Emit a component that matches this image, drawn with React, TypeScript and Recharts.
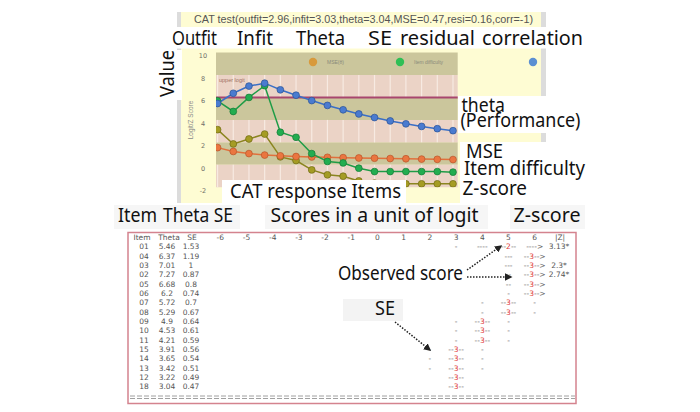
import React from "react";
import { LineChart, Line, XAxis, YAxis, ReferenceArea, ReferenceLine, Legend } from "recharts";

// CAT items in the order they were given
const items = ["01", "04", "03", "02", "05", "06", "07", "08", "09", "10", "11", "15", "14", "13", "12", "18"];
const theta = [5.46, 6.37, 7.01, 7.27, 6.68, 6.2, 5.72, 5.29, 4.9, 4.53, 4.21, 3.91, 3.65, 3.42, 3.22, 3.04];
const se = [1.53, 1.19, 1, 0.87, 0.8, 0.74, 0.7, 0.67, 0.64, 0.61, 0.59, 0.56, 0.54, 0.51, 0.49, 0.47];
const difficulty = [5.7, 4.75, 6.0, 7.05, 2.9, 2.45, 1.0, 0.3, 0.17, -0.3, -0.6, -0.6, -0.6, -0.6, -0.6, -0.65];
const zScore = [3.13, 1.86, 2.3, 2.74, 0.71, 0.38, -0.45, -0.89, -1.01, -1.43, -1.63, -1.69, -1.69, -1.69, -1.69, -1.69];
const zFlags = ["3.13*", "", "2.3*", "2.74*", "", "", "", "", "", "", "", "", "", "", "", ""];

const yTicks = [-2, 0, 2, 4, 6, 8, 10];
const khakiBands: [number, number][] = [[8, 10], [4, 6], [0, 2]];
const pinkBands: [number, number][] = [[6, 8], [2, 4], [-2, 0]];
const scaleCols = [-6, -5, -4, -3, -2, -1, 0, 1, 2, 3, 4, 5, 6];

// observed-score marks per table row: [logit column, text]
const scoreMarks: [number, string][][] = [
  [[3, "-"], [4, "----"], [5, "--2--"], [6, "---->"]],
  [[5, "---"], [6, "--3-->"]],
  [[5, "---"], [6, "--3-->"]],
  [[5, "--"], [6, "--3-->"]],
  [[5, "--"], [6, "--3-->"]],
  [[5, "-"], [6, "--3-->"]],
  [[4, "-"], [5, "--3--"], [6, "-"]],
  [[4, "-"], [5, "--3--"], [6, "-"]],
  [[3, "-"], [4, "--3--"], [5, "-"]],
  [[3, "-"], [4, "--3--"], [5, "-"]],
  [[3, "-"], [4, "--3--"], [5, "-"]],
  [[2, "-"], [3, "--3--"], [4, "-"]],
  [[2, "-"], [3, "--3--"], [4, "-"]],
  [[2, "-"], [3, "--3--"], [4, "-"]],
  [[3, "--3--"]],
  [[3, "--3--"]],
];

const legendNames = ["MSE(θ)", "Item difficulty", ""];
const legendColors = ["#d89a3c", "#2fbf55", "#5b8fd2"];
const legendX = [136, 223, 356];

const data = items.map((it, i) => ({
  n: i + 1,
  item: it,
  theta: theta[i],
  se: se[i],
  difficulty: difficulty[i],
  z: zScore[i],
}));

const YTick = (props: any) => (
  <text x={26} y={props.y + 3.6} dy="0.35em" textAnchor="middle" fontSize={6.5} fill="#70706a" fontFamily="DejaVu Sans">
    {props.payload.value}
  </text>
);

const LegendBox = () => (
  <svg width={366} height={20}>
    {legendNames.map((name, i) => (
      <g key={i}>
        <circle cx={legendX[i]} cy={10} r={4.2} fill={legendColors[i]} />
        {name && (
          <text x={legendX[i] + 14} y={12} fontSize={5} fill="#8a8a7a" fontFamily="Liberation Sans">
            {name}
          </text>
        )}
      </g>
    ))}
  </svg>
);

const colX = (v: number) => 377.5 + v * 26.2;
const rowY = (i: number) => 249.3 + i * 9.33;

const Mark = ({ x, y, s }: { x: number; y: number; s: string }) => {
  const m = s.match(/^(-*)(\d?)(.*)$/) || ["", s, "", ""];
  return (
    <text x={x} y={y} textAnchor="middle" fontSize={7.5} fill="#666" fontFamily="DejaVu Sans">
      {m[1]}
      {m[2] && <tspan fill="#e03a3a">{m[2]}</tspan>}
      {m[3]}
    </text>
  );
};

const Big = ({ x, y, w, children }: { x: number; y: number; w: number; children: string }) => (
  <text x={x} y={y} fontSize={19.5} fill="#111" fontFamily="Noto Sans" textLength={w} lengthAdjust="spacingAndGlyphs">
    {children}
  </text>
);

export default function App() {
  return (
    <div style={{ position: "absolute", left: 0, top: 0, width: 700, height: 412, background: "#fff", overflow: "hidden" }}>
      <div style={{ position: "absolute", left: 177, top: 12, width: 366, height: 191, background: "#fefcd3" }}>
        <LineChart width={366} height={191} data={data} margin={{ top: 40.5, right: 85.3, left: 17, bottom: 5.7 }}>
          {khakiBands.map(([a, b]) => (
            <ReferenceArea key={"k" + a} y1={a} y2={b} fill="#cbc69c" fillOpacity={1} stroke="none" />
          ))}
          {pinkBands.map(([a, b]) => (
            <ReferenceArea key={"p" + a} y1={a} y2={b} fill="#ebd3c6" fillOpacity={1} stroke="none" />
          ))}
          {pinkBands.map(([a, b]) =>
            data.map((d) => (
              <ReferenceLine
                key={"s" + a + "-" + d.n}
                segment={[{ x: d.n, y: a }, { x: d.n, y: b }]}
                stroke="#f7eae2"
                strokeWidth={1.2}
              />
            ))
          )}
          <ReferenceLine y={6} stroke="#a8466e" strokeWidth={2} />
          <XAxis
            dataKey="n"
            type="number"
            domain={[0.9, 16.3]}
            ticks={data.map((d) => d.n)}
            height={10}
            axisLine={false}
            tickLine={false}
            tick={false}
            allowDataOverflow
          />
          <YAxis
            type="number"
            width={22}
            domain={[-2, 10]}
            ticks={yTicks}
            interval={0}
            minTickGap={-20}
            fontSize={4}
            axisLine={false}
            tickLine={false}
            tick={(p: any) => <YTick {...p} />}
            allowDataOverflow
          />
          <Legend
            layout="horizontal"
            verticalAlign="middle"
            align="center"
            content={() => <LegendBox />}
            wrapperStyle={{ position: "absolute", top: 40, left: 0, width: 366, height: 20 }}
          />
          <Line dataKey="z" stroke="#8b8520" strokeWidth={1.5} dot={{ r: 3.4, fill: "#a59c24", stroke: "#6f6a14", strokeWidth: 0.7 }} isAnimationActive={false} />
          <Line dataKey="se" stroke="#e0703c" strokeWidth={1.5} dot={{ r: 3.4, fill: "#ea7640", stroke: "#b8552a", strokeWidth: 0.7 }} isAnimationActive={false} />
          <Line dataKey="difficulty" stroke="#1f9c47" strokeWidth={1.5} dot={{ r: 3.4, fill: "#23ad50", stroke: "#157a35", strokeWidth: 0.7 }} isAnimationActive={false} />
          <Line dataKey="theta" stroke="#3a6fc6" strokeWidth={1.5} dot={{ r: 3.4, fill: "#4a7bd0", stroke: "#2b5192", strokeWidth: 0.7 }} isAnimationActive={false} />
        </LineChart>
      </div>

      <svg width={700} height={412} style={{ position: "absolute", left: 0, top: 0, pointerEvents: "none" }}>
        <defs>
          <marker id="arr" viewBox="0 0 10 10" refX="8" refY="5" markerWidth="5" markerHeight="5" orient="auto">
            <path d="M0,0 L10,5 L0,10 z" fill="#222" />
          </marker>
        </defs>
        {/* panel edges */}
        <rect x={177} y={12} width={4} height={191} fill="#dcdcdc" />
        <rect x={541} y={12} width={5} height={191} fill="#dcdcdc" />

        <text x={194} y={23.3} fontSize={11.5} fill="#555" fontFamily="Liberation Sans" textLength={339} lengthAdjust="spacingAndGlyphs">
          CAT test(outfit=2.96,infit=3.03,theta=3.04,MSE=0.47,resi=0.16,corr=-1)
        </text>
        <text x={219} y={82} fontSize={5.5} fill="#a07060" fontFamily="Liberation Sans">upper logit</text>
        <text transform="translate(193,120) rotate(-90)" textAnchor="middle" fontSize={6.5} fill="#888" fontFamily="Liberation Sans">
          Logit/Z Score
        </text>

        {/* header labels */}
        <rect x={168} y={27} width={422} height={21.5} fill="#fff" />
        <Big x={172} y={45} w={45}>Outfit</Big>
        <Big x={237} y={45} w={36}>Infit</Big>
        <Big x={296} y={45} w={49}>Theta</Big>
        <Big x={368} y={45} w={24}>SE</Big>
        <Big x={400} y={45} w={75}>residual</Big>
        <Big x={482} y={45} w={101}>correlation</Big>

        <rect x={152} y={50} width={30} height={50} fill="#fff" />
        <text transform="translate(173.5,73.5) rotate(-90)" textAnchor="middle" fontSize={19.5} fill="#111" fontFamily="Noto Sans" textLength={47} lengthAdjust="spacingAndGlyphs">
          Value
        </text>

        {/* series labels */}
        <rect x={458} y={96} width={108} height={37} fill="#fff" />
        <Big x={461.5} y={111.5} w={43.5}>theta</Big>
        <Big x={460.5} y={126.5} w={120}>(Performance)</Big>
        <rect x={460} y={142} width={106} height={61} fill="#fff" />
        <Big x={466} y={158} w={37}>MSE</Big>
        <Big x={464} y={175} w={121}>Item difficulty</Big>
        <Big x={462.5} y={195} w={64.5}>Z-score</Big>

        <rect x={222} y={180} width={184} height={24} fill="#fff" />
        <Big x={230} y={197.5} w={171}>CAT response Items</Big>

        {/* table labels */}
        <rect x={114} y={205} width={126} height={24} fill="#f6f6f6" />
        <rect x={265} y={205} width={223} height={24} fill="#f6f6f6" />
        <rect x={510} y={205} width={75} height={24} fill="#f6f6f6" />
        <Big x={118} y={221.5} w={39}>Item</Big>
        <Big x={163} y={221.5} w={70}>Theta SE</Big>
        <Big x={270.5} y={221.5} w={208}>Scores in a unit of logit</Big>
        <Big x={513.5} y={221.5} w={67}>Z-score</Big>

        {/* table */}
        <rect x={128} y={232.5} width={448} height={171} fill="#fff" stroke="#d4838e" strokeWidth={1.5} />
        <g fontFamily="DejaVu Sans" fontSize={7.5} fill="#555" textAnchor="middle">
          <text x={142} y={239.5}>Item</text>
          <text x={169} y={239.5}>Theta</text>
          <text x={192} y={239.5}>SE</text>
          {scaleCols.map((c) => (
            <text key={c} x={colX(c)} y={239.5}>{c}</text>
          ))}
          <text x={560} y={239.5}>|Z|</text>
          {items.map((it, i) => (
            <g key={it}>
              <text x={144} y={rowY(i)}>{it}</text>
              <text x={167} y={rowY(i)}>{theta[i]}</text>
              <text x={191} y={rowY(i)}>{se[i]}</text>
              {zFlags[i] && <text x={559} y={rowY(i)}>{zFlags[i]}</text>}
            </g>
          ))}
        </g>
        {scoreMarks.map((row, i) =>
          row.map(([c, s]) => <Mark key={i + "-" + c} x={colX(c)} y={rowY(i)} s={s} />)
        )}
        <line x1={130} x2={575} y1={396} y2={396} stroke="#888" strokeWidth={0.8} strokeDasharray="5 2" />
        <line x1={130} x2={575} y1={398.5} y2={398.5} stroke="#888" strokeWidth={0.8} strokeDasharray="5 2" />

        {/* annotations */}
        <Big x={338} y={279.5} w={125}>Observed score</Big>
        <line x1={467} y1={270} x2={501} y2={246} stroke="#222" strokeWidth={1.5} strokeDasharray="1.5 1.5" markerEnd="url(#arr)" />
        <line x1={467} y1={277} x2={511} y2={277} stroke="#222" strokeWidth={1.5} strokeDasharray="1.5 1.5" markerEnd="url(#arr)" />
        <rect x={343} y={299} width={60} height={22} fill="#f3f3f3" />
        <Big x={375} y={315} w={20}>SE</Big>
        <line x1={395} y1={322} x2={430} y2={350} stroke="#222" strokeWidth={1.5} strokeDasharray="1.5 1.5" markerEnd="url(#arr)" />
      </svg>
    </div>
  );
}
